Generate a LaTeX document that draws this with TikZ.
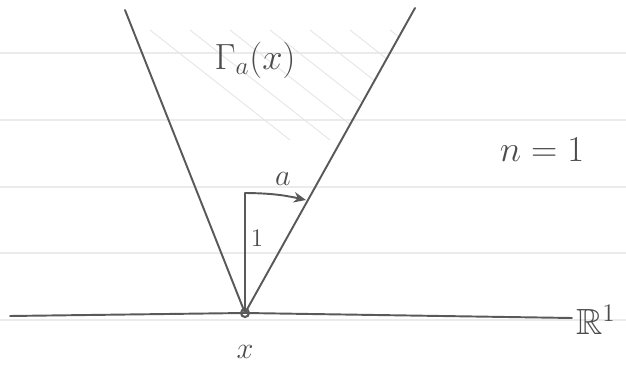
\documentclass[tikz,border=0pt]{standalone}
\usepackage{amsmath, amssymb, amsfonts}
\usepackage{tikz}
\usetikzlibrary{arrows.meta}

\begin{document}
\begin{tikzpicture}[
    x=0.02cm, y=-0.02cm,
    >={Stealth[length=7pt, width=6pt]},
    pencil/.style={draw=black!65, line width=1.1pt, line cap=round},
    paper/.style={draw=black!8, line width=0.6pt},
    hatch/.style={draw=black!10, line width=0.5pt},
    lbl/.style={text=black!70, inner sep=1pt}
]
    \useasboundingbox (0,0) rectangle (626,368);

    % Paper lines
    \foreach \y in {53,120,187,253,320} {
        \draw[paper] (0,\y) -- (626,\y);
    }

    % Points
    \coordinate (apex) at (245,313);
    \coordinate (tl) at (125,10);
    \coordinate (tr) at (415,8);
    \coordinate (top) at (245,193);
    \coordinate (hit) at (306,200);
    \coordinate (axl) at (10,316);
    \coordinate (axr) at (572,318);

    % Cone hatching
    \begin{scope}
        \clip (apex) -- (tl) -- (tr) -- cycle;
        \foreach \s in {150,190,...,700} {
            \draw[hatch] (\s,30) -- ++(140,110);
        }
    \end{scope}

    % Axis and cone
    \draw[pencil] (axl) -- (apex) -- (axr);
    \draw[pencil] (apex) -- (tl);
    \draw[pencil] (apex) -- (tr);
    \draw[pencil, line width=0.8pt] (apex) -- (top);
    \draw[pencil, ->] (top) to[bend left=6] (hit);
    \draw[pencil, line width=1.2pt] (apex) circle (4);

    % Labels
    \node[lbl, font=\huge] (gamma) at (255,60) {$\Gamma_a(x)$};
    \node[lbl, font=\LARGE] (alab) at (283,179) {$a$};
    \node[lbl, font=\Large] (one) at (257,238) {$1$};
    \node[lbl, font=\LARGE] (xlab) at (245,352) {$x$};
    \node[lbl, font=\huge] (dim) at (542,150) {$n=1$};
    \node[lbl, font=\huge, anchor=west] (real) at (574,320) {$\mathbb{R}^1$};

\end{tikzpicture}
\end{document}
